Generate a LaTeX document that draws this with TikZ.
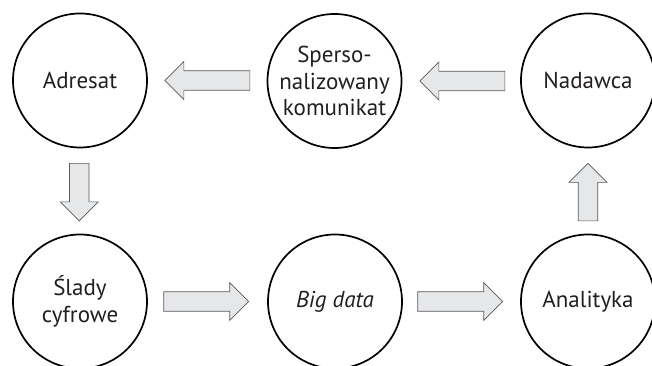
\documentclass[tikz,border=0pt]{standalone}
\usepackage{fontspec}
\setmainfont{PT Sans}
\usetikzlibrary{calc}
\definecolor{txt}{HTML}{231F20}
\definecolor{arrfill}{HTML}{E6E7E8}
\definecolor{arrline}{HTML}{58595B}
\tikzset{
  stage/.style={circle, draw=black, line width=1.7pt, minimum size=134pt, inner sep=0pt,
    align=center, text=txt, font=\fontsize{23}{26.5}\selectfont},
  arrowbody/.style={fill=arrfill, draw=arrline, line width=0.7pt, line join=miter},
  pics/blockarr/.style={code={
    \draw[arrowbody] (0,0) -- (-19,-19) -- (-19,-9.75) -- (-#1,-9.75) -- (-#1,9.75)
      -- (-19,9.75) -- (-19,19) -- cycle;}}
}
\begin{document}
\begin{tikzpicture}[x=1pt,y=-1pt]
\useasboundingbox (0,0) rectangle (652,366);
\clip (0,0) rectangle (652,366);
\fill[white] (0,0) rectangle (652,366);
\node[stage] (adr) at (80,80.5) {Adresat};
\node[stage] (kom) at (334.5,81) {Sperso-\\nalizowany\\komunikat};
\node[stage] (nad) at (588,80.5) {Nadawca};
\node[stage] (sla) at (80,301.5) {Ślady\\cyfrowe};
\node[stage] (big) at (335,301.5) {\itshape Big data};
\node[stage] (ana) at (588,301.5) {Analityka};
% arrows (tip positions derived from node anchors)
\coordinate (t1) at ($(adr.east)+(17,0)$);
\coordinate (t2) at ($(kom.east)+(17.5,0)$);
\coordinate (t3) at ($(nad.south)+(0,15)$);
\coordinate (t4) at ($(adr.south)+(-0.7,72.5)$);
\coordinate (t5) at ($(big.west)+(-18.5,0)$);
\coordinate (t6) at ($(ana.west)+(-17.5,0)$);
\pic[rotate=180] at (t1) {blockarr=85};
\pic[rotate=180] at (t2) {blockarr=85};
\pic[rotate=90] at (t3) {blockarr=57.5};
\pic[rotate=-90] at (t4) {blockarr=57.5};
\pic at (t5) {blockarr=85};
\pic at (t6) {blockarr=85};
\end{tikzpicture}
\end{document}
